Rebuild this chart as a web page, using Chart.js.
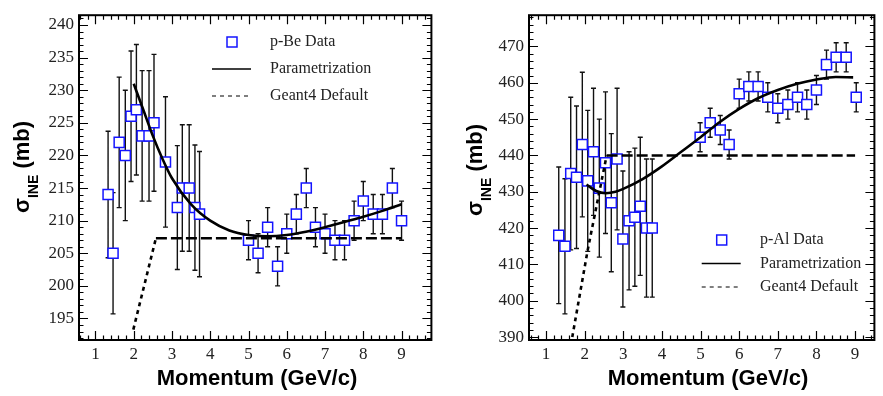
<!DOCTYPE html>
<html>
<head>
<meta charset="utf-8">
<script src="https://cdn.jsdelivr.net/npm/chart.js@4.4.1/dist/chart.umd.min.js"></script>
<style>
  html, body { margin: 0; padding: 0; background: #fff; }
  #wrap { position: relative; width: 883px; height: 396px; }
  canvas { position: absolute; top: 0; }
</style>
</head>
<body>
<div id="wrap">
  <canvas id="pBe" width="440" height="396" style="left:0"></canvas>
  <canvas id="pAl" width="443" height="396" style="left:440px"></canvas>
</div>
<script>
// --- axes ---
const xTicks = [1, 2, 3, 4, 5, 6, 7, 8, 9];
const beYTicks = [195, 200, 205, 210, 215, 220, 225, 230, 235, 240];
const alYTicks = [390, 400, 410, 420, 430, 440, 450, 460, 470];

// --- p-Be ---
const beMomentum = [1.33, 1.46, 1.62, 1.78, 1.93, 2.07, 2.22, 2.40, 2.53, 2.83, 3.14, 3.27, 3.45, 3.60, 3.72,
                    5.0, 5.25, 5.5, 5.76, 6.0, 6.25, 6.51, 6.75, 7.0, 7.26, 7.51, 7.76, 8.0, 8.26, 8.5, 8.76, 9.0];
const beSigma = [214, 205, 222, 220, 226, 227, 223, 223, 225, 219, 212, 215, 215, 212, 211,
                 207, 205, 209, 203, 208, 211, 215, 209, 208, 207, 207, 210, 213, 211, 211, 215, 210];
const beError = [9.7, 9.3, 10, 10, 10, 10, 10, 10, 10.5, 10, 9.5, 9.7, 9.7, 9.6, 9.6,
                 3, 3, 3, 3, 3, 3, 3, 3, 3, 3, 3, 3, 3, 3, 3, 3, 3];
const beParamP = [2.0, 2.25, 2.5, 2.75, 3.0, 3.5, 4.0, 4.5, 5.0, 5.5, 6.0, 6.5, 7.0, 7.5, 8.0, 8.5, 9.0];
const beParamS = [231, 227, 223, 219.5, 216.5, 212.5, 210, 208.5, 207.8, 207.6, 207.8, 208.3, 209, 209.8, 210.6, 211.5, 212.5];
const beG4P = [1.99, 2.58, 9.0];
const beG4S = [193.3, 207.3, 207.3];

// --- p-Al ---
const alMomentum = [1.33, 1.49, 1.64, 1.79, 1.94, 2.08, 2.23, 2.38, 2.54, 2.69, 2.84, 2.99, 3.15, 3.30, 3.44, 3.60, 3.75,
                    4.99, 5.25, 5.51, 5.74, 6.0, 6.25, 6.49, 6.74, 7.0, 7.26, 7.51, 7.75, 8.0, 8.26, 8.51, 8.77, 9.03];
const alSigma = [418, 415, 435, 434, 443, 433, 441, 431, 438, 427, 439, 417, 422, 423, 426, 420, 420,
                 445, 449, 447, 443, 457, 459, 459, 456, 453, 454, 456, 454, 458, 465, 467, 467, 456];
const alError = [18.8, 18.6, 21, 19.6, 19.9, 19.4, 17.5, 19, 19.5, 19, 19.5, 18.7, 19, 19, 19, 19, 19,
                 4, 4, 4, 4, 4, 4, 4, 4, 4, 4, 4, 4, 4, 4, 4, 4, 4];
const alParamP = [2.05, 2.3, 2.55, 2.8, 3.0, 3.5, 4.0, 4.5, 5.0, 5.5, 6.0, 6.5, 7.0, 7.5, 8.0, 8.5, 8.95];
const alParamS = [432, 430.2, 429.6, 430, 430.8, 433.5, 437, 441, 445, 449.2, 452.8, 455.8, 458, 459.7, 460.9, 461.6, 461.5];
const alG4P = [1.68, 2.08, 2.57, 9.0];
const alG4S = [390, 414, 440, 440];

const pts = (xs, ys) => xs.map((x, i) => ({ x: x, y: ys[i] }));

// cadre + graduations vers l'intérieur sur les 4 côtés
const frameTicks = {
  id: 'frameTicks',
  afterDraw(chart, args, o) {
    const { ctx, chartArea: a, scales: { x, y } } = chart;
    ctx.save();
    ctx.strokeStyle = '#000';
    ctx.lineWidth = 1.2;
    ctx.beginPath();
    for (let k = Math.ceil(x.min / o.xMinor); k * o.xMinor <= x.max; k++) {
      const v = k * o.xMinor;
      const major = Math.abs(v - Math.round(v)) < 1e-6;
      const len = major ? 9 : 4.5;
      const px = Math.round(x.getPixelForValue(v)) + 0.5;
      ctx.moveTo(px, a.bottom); ctx.lineTo(px, a.bottom - len);
      ctx.moveTo(px, a.top); ctx.lineTo(px, a.top + len);
    }
    for (let k = Math.ceil(y.min / o.yMinor); k * o.yMinor <= y.max; k++) {
      const v = k * o.yMinor;
      const major = Math.abs(v / o.yMajor - Math.round(v / o.yMajor)) < 1e-6;
      const len = major ? 9 : 4.5;
      const py = Math.round(y.getPixelForValue(v)) + 0.5;
      ctx.moveTo(a.left, py); ctx.lineTo(a.left + len, py);
      ctx.moveTo(a.right, py); ctx.lineTo(a.right - len, py);
    }
    ctx.stroke();
    ctx.lineWidth = 2;
    ctx.strokeRect(a.left, a.top, a.width, a.height);
    ctx.restore();
  }
};

// barres d'erreur sous les carrés
const errorBars = {
  id: 'errorBars',
  beforeDatasetsDraw(chart) {
    const { ctx, scales: { x, y } } = chart;
    const ds = chart.data.datasets[0];
    ctx.save();
    ctx.strokeStyle = '#111';
    ctx.lineWidth = 1.4;
    ctx.beginPath();
    ds.data.forEach((p, i) => {
      const px = x.getPixelForValue(p.x);
      const y1 = y.getPixelForValue(p.y + ds.errors[i]);
      const y2 = y.getPixelForValue(p.y - ds.errors[i]);
      ctx.moveTo(px, y1); ctx.lineTo(px, y2);
      ctx.moveTo(px - 2.5, y1); ctx.lineTo(px + 2.5, y1);
      ctx.moveTo(px - 2.5, y2); ctx.lineTo(px + 2.5, y2);
    });
    ctx.stroke();
    ctx.restore();
  }
};

// légende et titres des axes
const boxLegend = {
  id: 'boxLegend',
  afterDraw(chart, args, o) {
    const ctx = chart.ctx;
    const ds = chart.data.datasets;
    ctx.save();
    ctx.font = '16px "Liberation Serif"';
    ctx.fillStyle = '#222';
    ctx.textBaseline = 'middle';
    ds.forEach((d, i) => {
      const yy = o.y + i * o.dy;
      ctx.fillText(d.label, o.textX, yy);
      if (i === 0) {
        ctx.strokeStyle = d.borderColor;
        ctx.lineWidth = 1.5;
        ctx.fillStyle = '#fff';
        ctx.fillRect(o.x - 5, yy - 5, 10, 10);
        ctx.strokeRect(o.x - 5, yy - 5, 10, 10);
        ctx.fillStyle = '#222';
      } else {
        ctx.strokeStyle = '#000';
        ctx.lineWidth = i === 1 ? 1.5 : 1.2;
        ctx.setLineDash(i === 1 ? [] : [4, 4]);
        ctx.beginPath();
        ctx.moveTo(o.x - 20, yy); ctx.lineTo(o.x + 19, yy);
        ctx.stroke();
        ctx.setLineDash([]);
      }
    });

    // titre x
    ctx.fillStyle = '#000';
    ctx.font = 'bold 22px "Liberation Sans"';
    ctx.textAlign = 'center';
    ctx.fillText('Momentum (GeV/c)', o.xTitleX, 379);

    // titre y avec indice
    const big = 'bold ' + o.ySize + 'px "Liberation Sans"';
    const small = 'bold ' + Math.round(o.ySize * 0.62) + 'px "Liberation Sans"';
    ctx.textAlign = 'left';
    ctx.textBaseline = 'alphabetic';
    ctx.font = big; const w1 = ctx.measureText('σ').width; const w3 = ctx.measureText(' (mb)').width;
    ctx.font = small; const w2 = ctx.measureText('INE').width;
    const x0 = -(w1 + w2 + w3) / 2;
    ctx.translate(o.yTitleX, o.yTitleY);
    ctx.rotate(-Math.PI / 2);
    ctx.font = big; ctx.fillText('σ', x0, 0);
    ctx.font = small; ctx.fillText('INE', x0 + w1, o.ySize * 0.4);
    ctx.font = big; ctx.fillText(' (mb)', x0 + w1 + w2, 0);
    ctx.restore();
  }
};

function makeChart(id, s) {
  const g4 = pts(s.g4P, s.g4S);
  return new Chart(document.getElementById(id), {
    type: 'scatter',
    data: {
      datasets: [
        {
          label: s.dataLabel,
          data: pts(s.momentum, s.sigma),
          errors: s.error,
          pointStyle: 'rect',
          pointRadius: 7.1,
          pointBorderWidth: 1.5,
          borderColor: '#1414ff',
          backgroundColor: '#fff',
          order: 3
        },
        {
          label: 'Parametrization',
          type: 'line',
          data: pts(s.paramP, s.paramS),
          borderColor: '#000',
          borderWidth: 2.6,
          pointRadius: 0,
          fill: false,
          cubicInterpolationMode: 'monotone',
          order: 1
        },
        {
          label: 'Geant4 Default',
          type: 'line',
          data: g4,
          borderColor: '#000',
          borderWidth: 2.6,
          pointRadius: 0,
          fill: false,
          tension: 0,
          segment: {
            borderDash: c => (c.p1.parsed.y !== c.p0.parsed.y ? [4, 4] : [11, 4])
          },
          order: 2
        }
      ]
    },
    options: {
      responsive: false,
      animation: false,
      events: [],
      layout: { padding: { top: 6, right: s.padRight, left: 0, bottom: 0 } },
      plugins: {
        legend: { display: false },
        tooltip: { enabled: false },
        frameTicks: { xMinor: 0.2, yMinor: s.yMinor, yMajor: s.yMajor },
        boxLegend: s.legend
      },
      scales: {
        x: {
          type: 'linear',
          min: s.xMin, max: s.xMax,
          afterBuildTicks: sc => { sc.ticks = xTicks.map(v => ({ value: v })); },
          afterFit: sc => { sc.height = 56; },
          grid: { display: false, drawTicks: false },
          border: { display: false },
          ticks: { padding: 4, maxRotation: 0, autoSkip: false, color: '#222',
                   font: { family: 'Liberation Serif', size: 17 } }
        },
        y: {
          type: 'linear',
          min: s.yMin, max: s.yMax,
          afterBuildTicks: sc => { sc.ticks = s.yTicks.map(v => ({ value: v })); },
          afterFit: sc => { sc.width = s.yWidth; },
          grid: { display: false, drawTicks: false },
          border: { display: false },
          ticks: { padding: 5, autoSkip: false, color: '#222',
                   font: { family: 'Liberation Serif', size: 17 } }
        }
      }
    },
    plugins: [errorBars, frameTicks, boxLegend]
  });
}

makeChart('pBe', {
  dataLabel: 'p-Be Data',
  momentum: beMomentum, sigma: beSigma, error: beError,
  paramP: beParamP, paramS: beParamS, g4P: beG4P, g4S: beG4S,
  xMin: 0.57, xMax: 9.78, yMin: 191.7, yMax: 241.5,
  yTicks: beYTicks, yMinor: 1, yMajor: 5, yWidth: 79, padRight: 3,
  legend: { x: 232, textX: 270, y: 42, dy: 27, xTitleX: 257, yTitleX: 29, yTitleY: 167, ySize: 22 }
});

makeChart('pAl', {
  dataLabel: 'p-Al Data',
  momentum: alMomentum, sigma: alSigma, error: alError,
  paramP: alParamP, paramS: alParamS, g4P: alG4P, g4S: alG4S,
  xMin: 0.56, xMax: 9.5, yMin: 389.2, yMax: 478.6,
  yTicks: alYTicks, yMinor: 2, yMajor: 10, yWidth: 89, padRight: 5,
  legend: { x: 281.7, textX: 320, y: 240, dy: 23.5, xTitleX: 268, yTitleX: 42, yTitleY: 170, ySize: 22 }
});
</script>
</body>
</html>
